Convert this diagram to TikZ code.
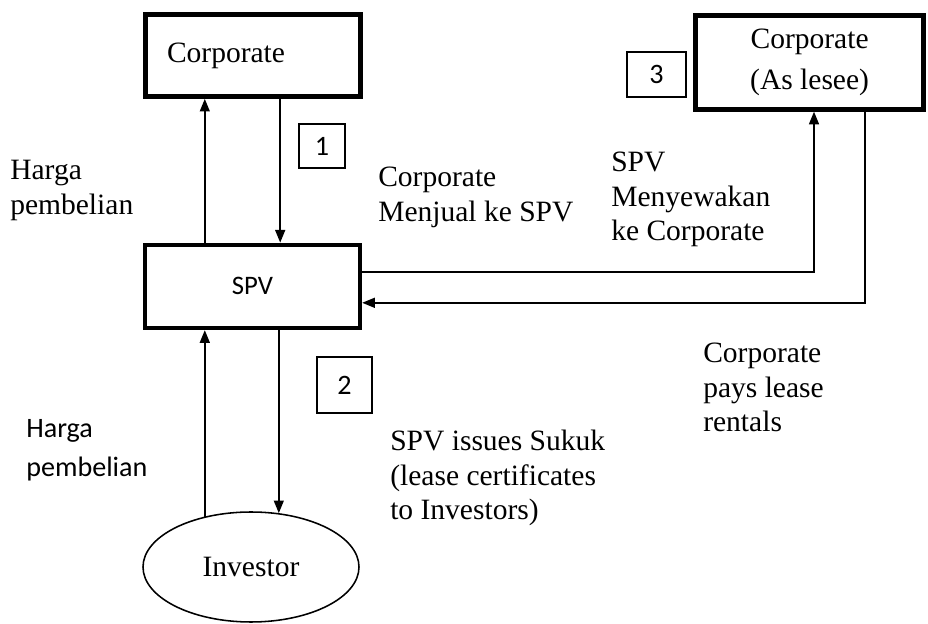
\documentclass[tikz,border=0pt]{standalone}
\usepackage{fontspec}
\setmainfont{Liberation Serif}
\newfontfamily\calibri{Carlito}
\usepackage{tikz}
\usetikzlibrary{arrows.meta, positioning, shapes.geometric, calc}

\begin{document}
\begin{tikzpicture}[
			party/.style={rectangle, draw=black, line width=3.2pt, inner sep=0pt,
				font=\fontsize{21}{28.5}\selectfont},
			stepno/.style={rectangle, draw=black, line width=1.2pt, inner sep=0pt,
				font=\calibri\fontsize{20}{24}\selectfont},
			holder/.style={ellipse, draw=black, line width=1.1pt, inner sep=0pt,
				minimum width=5.4cm, minimum height=2.75cm, font=\fontsize{21}{25}\selectfont},
			note/.style={anchor=north west, inner sep=0pt, align=left,
				font=\fontsize{21}{24.5}\selectfont},
			rel/.style={-{Triangle[length=9pt,width=7pt]}, draw=black, line width=1.3pt}
			]
			\useasboundingbox (0,0) rectangle (23.2,-15.6);
			
			\node[party, minimum width=5.375cm, minimum height=2.05cm,
				text width=4.3cm, align=left] (corp) at (6.325,-1.39) {Corporate};
			\node[party, minimum width=5.375cm, minimum height=2.075cm,
				font=\calibri\fontsize{19}{22}\selectfont] (spv) at (6.31,-7.16) {SPV};
			\node[party, minimum width=5.7cm, minimum height=2.35cm, align=center]
				(lesee) at (20.24,-1.56) {Corporate\\(As lesee)};
			\node[holder] (inv) at (6.275,-14.175) {Investor};
			
			\node[stepno, minimum width=1.15cm, minimum height=1.1cm] (n1) at (8.05,-3.65) {1};
			\node[stepno, minimum width=1.375cm, minimum height=1.4cm] (n2) at (8.61,-9.625) {2};
			\node[stepno, minimum width=1.475cm, minimum height=1.125cm] (n3) at (16.41,-1.86) {3};
			
			\node[note] (buy1) at (0.25,-4.0) {Harga\\pembelian};
			\node[note] (sell) at (9.45,-4.175) {Corporate\\Menjual ke SPV};
			\node[note] (rent) at (15.275,-3.8) {SPV\\Menyewakan\\ke Corporate};
			\node[note] (pays) at (17.575,-8.575) {Corporate\\pays lease\\rentals};
			\node[note] (issue) at (9.75,-10.75) {SPV issues Sukuk\\(lease certificates\\to Investors)};
			\node[note, font=\calibri\fontsize{20}{27.7}\selectfont] (buy2) at (0.65,-10.475) {Harga\\pembelian};
			
			\draw[rel] ([xshift=-1.19cm]spv.north) -- ([xshift=-1.19cm]spv.north |- corp.south);
			\draw[rel] ([xshift=0.68cm]corp.south) -- ([xshift=0.68cm]corp.south |- spv.north);
			\draw[rel] ([xshift=-1.19cm]spv.south |- inv.133) -- ([xshift=-1.19cm]spv.south);
			\draw[rel] ([xshift=0.66cm]spv.south) -- ([xshift=0.66cm]spv.south |- inv.62);
			\draw[rel] ([yshift=0.36cm]spv.east) -| ([xshift=0.11cm]lesee.south);
			\draw[rel] ([xshift=1.39cm]lesee.south) |- ([yshift=-0.41cm]spv.east);
		\end{tikzpicture}
\end{document}
